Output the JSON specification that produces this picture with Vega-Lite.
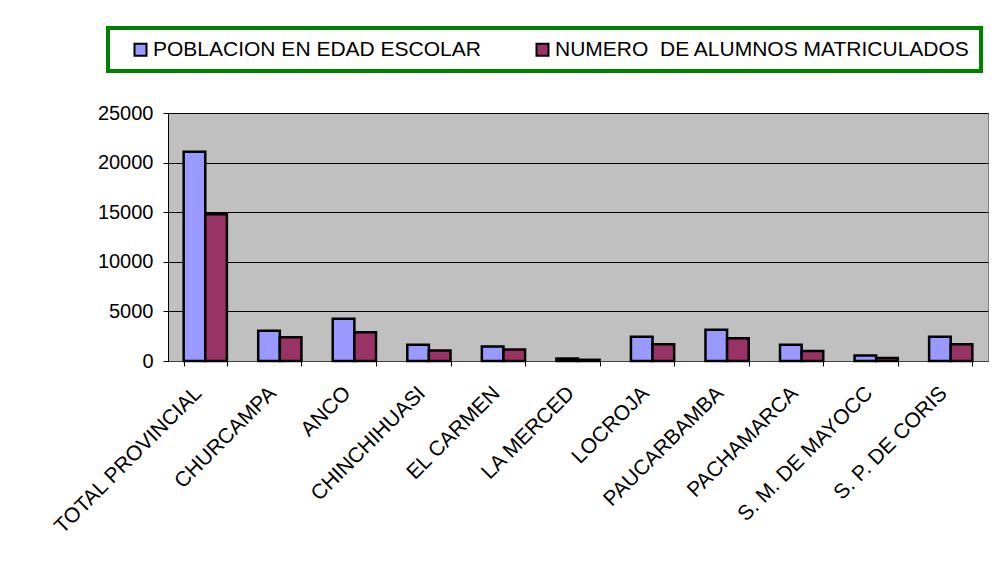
{
  "$schema": "https://vega.github.io/schema/vega-lite/v6.json",
  "width": 820,
  "height": 248,
  "autosize": {"type": "none"},
  "padding": {"left": 168, "top": 113, "right": 12, "bottom": 207},
  "background": "white",
  "data": {
    "values": [
      {"distrito": "TOTAL PROVINCIAL", "serie": "POBLACION EN EDAD ESCOLAR", "valor": 21100},
      {"distrito": "TOTAL PROVINCIAL", "serie": "NUMERO\u00a0 DE ALUMNOS MATRICULADOS", "valor": 14800},
      {"distrito": "CHURCAMPA", "serie": "POBLACION EN EDAD ESCOLAR", "valor": 3050},
      {"distrito": "CHURCAMPA", "serie": "NUMERO\u00a0 DE ALUMNOS MATRICULADOS", "valor": 2400},
      {"distrito": "ANCO", "serie": "POBLACION EN EDAD ESCOLAR", "valor": 4250},
      {"distrito": "ANCO", "serie": "NUMERO\u00a0 DE ALUMNOS MATRICULADOS", "valor": 2900},
      {"distrito": "CHINCHIHUASI", "serie": "POBLACION EN EDAD ESCOLAR", "valor": 1650},
      {"distrito": "CHINCHIHUASI", "serie": "NUMERO\u00a0 DE ALUMNOS MATRICULADOS", "valor": 1050},
      {"distrito": "EL CARMEN", "serie": "POBLACION EN EDAD ESCOLAR", "valor": 1450},
      {"distrito": "EL CARMEN", "serie": "NUMERO\u00a0 DE ALUMNOS MATRICULADOS", "valor": 1150},
      {"distrito": "LA MERCED", "serie": "POBLACION EN EDAD ESCOLAR", "valor": 250},
      {"distrito": "LA MERCED", "serie": "NUMERO\u00a0 DE ALUMNOS MATRICULADOS", "valor": 120},
      {"distrito": "LOCROJA", "serie": "POBLACION EN EDAD ESCOLAR", "valor": 2450},
      {"distrito": "LOCROJA", "serie": "NUMERO\u00a0 DE ALUMNOS MATRICULADOS", "valor": 1700},
      {"distrito": "PAUCARBAMBA", "serie": "POBLACION EN EDAD ESCOLAR", "valor": 3150},
      {"distrito": "PAUCARBAMBA", "serie": "NUMERO\u00a0 DE ALUMNOS MATRICULADOS", "valor": 2300},
      {"distrito": "PACHAMARCA", "serie": "POBLACION EN EDAD ESCOLAR", "valor": 1650},
      {"distrito": "PACHAMARCA", "serie": "NUMERO\u00a0 DE ALUMNOS MATRICULADOS", "valor": 1000},
      {"distrito": "S. M. DE MAYOCC", "serie": "POBLACION EN EDAD ESCOLAR", "valor": 550},
      {"distrito": "S. M. DE MAYOCC", "serie": "NUMERO\u00a0 DE ALUMNOS MATRICULADOS", "valor": 300},
      {"distrito": "S. P. DE CORIS", "serie": "POBLACION EN EDAD ESCOLAR", "valor": 2450},
      {"distrito": "S. P. DE CORIS", "serie": "NUMERO\u00a0 DE ALUMNOS MATRICULADOS", "valor": 1700}
    ]
  },
  "mark": {"type": "bar", "stroke": "black", "strokeWidth": 2.5},
  "encoding": {
    "x": {
      "field": "distrito", "type": "nominal", "sort": null,
      "scale": {"paddingInner": 0.42, "paddingOuter": 0.21},
      "axis": {
        "title": null, "labelAngle": -45, "labelFont": "Liberation Sans", "labelFontSize": 21,
        "labelColor": "black", "labelPadding": 16, "labelOffset": -15, "tickBand": "extent", "tickColor": "black",
        "tickSize": 5, "domainColor": "#404040", "labelOverlap": false, "labelLimit": 0
      }
    },
    "xOffset": {"field": "serie", "type": "nominal", "sort": null, "scale": {"paddingInner": 0, "paddingOuter": 0}},
    "y": {
      "field": "valor", "type": "quantitative",
      "scale": {"domain": [0, 25000]},
      "axis": {
        "title": null, "values": [0, 5000, 10000, 15000, 20000, 25000], "format": "d",
        "labelFont": "Liberation Sans", "labelFontSize": 20, "labelColor": "black",
        "gridColor": "black", "gridWidth": 1, "gridOpacity": 1, "tickColor": "black",
        "tickSize": 5, "domainColor": "black", "labelPadding": 10
      }
    },
    "color": {
      "field": "serie", "type": "nominal", "sort": null,
      "scale": {"range": ["#9999FF", "#993366"]},
      "legend": {
        "title": null, "orient": "none", "legendX": -60, "legendY": -85, "direction": "horizontal",
        "padding": 11, "symbolOffset": 11, "symbolType": "square", "symbolSize": 144,
        "symbolStrokeColor": "black", "symbolStrokeWidth": 2,
        "labelFont": "Liberation Sans", "labelFontSize": 21, "labelColor": "black",
        "columnPadding": 40, "labelOffset": 2, "labelLimit": 0,
        "encode": {"legend": {"update": {"stroke": {"value": "#008000"}, "strokeWidth": {"value": 4}}}}
      }
    }
  },
  "config": {"view": {"fill": "#C0C0C0", "stroke": "#808080", "strokeWidth": 1}}
}
